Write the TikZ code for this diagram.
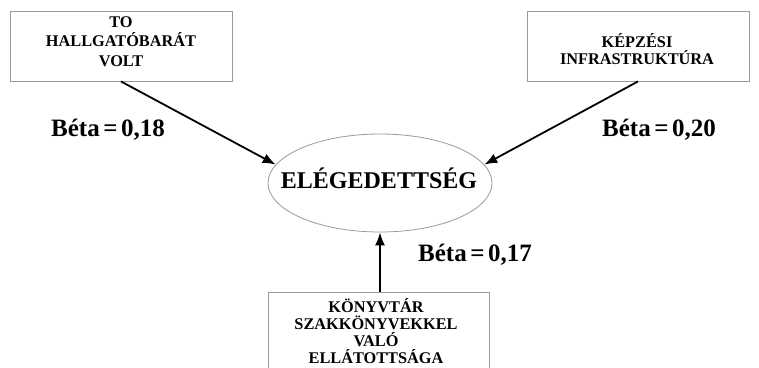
\documentclass[tikz,border=0pt]{standalone}
\usepackage{fontspec}
\setmainfont{Liberation Serif}
\usetikzlibrary{arrows.meta,shapes.geometric}
\definecolor{framegray}{HTML}{9A9A9A}
\tikzset{
  factorbox/.style={draw=framegray, line width=0.9pt, fill=white, minimum width=222pt, minimum height=70pt, inner sep=0pt},
  boxtext/.style={font=\bfseries\fontsize{16.3}{19.5}\selectfont, align=center, inner sep=0pt},
  outcome/.style={ellipse, draw=framegray, line width=0.8pt, minimum width=224pt, minimum height=98pt, inner sep=0pt},
  betalabel/.style={font=\bfseries\fontsize{25}{28}\selectfont, inner sep=0pt},
  effect/.style={line width=1.8pt, -{Latex[length=13pt,width=10pt]}}
}
\newcommand{\eqsp}{\hspace{0.14em}}
\begin{document}
\begin{tikzpicture}[x=1pt,y=-1pt]
\useasboundingbox (0,0) rectangle (759,367);
\clip (0,0) rectangle (759,367);
\fill[white] (0,0) rectangle (759,367);

% predictor boxes
\node[factorbox] (b1) at (121,46) {};
\node[boxtext] (t1) at (121,41.5) {TO\\HALLGATÓBARÁT\\VOLT};
\node[factorbox] (b2) at (638,46) {};
\node[boxtext, font=\bfseries\fontsize{16.3}{16.5}\selectfont] (t2) at (637,49) {KÉPZÉSI\\INFRASTRUKTÚRA};
\node[factorbox, minimum width=221pt, minimum height=90pt] (b3) at (379,337) {};
\node[boxtext, font=\bfseries\fontsize{16.3}{17}\selectfont] (t3) at (376,331) {KÖNYVTÁR\\SZAKKÖNYVEKKEL\\VALÓ\\ELLÁTOTTSÁGA};

% outcome
\node[outcome] (ell) at (380,183) {};
\node[font=\bfseries\fontsize{24}{27}\selectfont, inner sep=0pt] (et) at (379,178) {ELÉGEDETTSÉG};

% effects
\draw[effect] (b1.south) -- (ell.170);
\draw[effect] (b2.south) -- (ell.10);
\draw[effect] (b3.north -| ell.south) -- (ell.south);

% coefficients
\node[betalabel] (l1) at (108,130) {Béta\eqsp=\eqsp0,18};
\node[betalabel] (l2) at (659,130) {Béta\eqsp=\eqsp0,20};
\node[betalabel] (l3) at (475,255) {Béta\eqsp=\eqsp0,17};
\end{tikzpicture}
\end{document}
